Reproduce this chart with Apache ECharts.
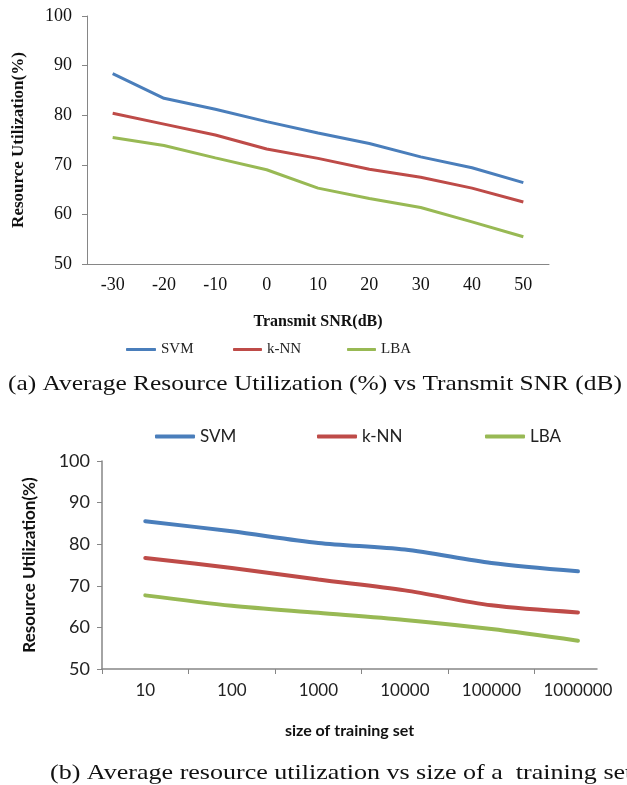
<!DOCTYPE html>
<html>
<head>
<meta charset="utf-8">
<script src="https://cdn.jsdelivr.net/npm/echarts@6/dist/echarts.min.js"></script>
<style>
  html, body { margin: 0; padding: 0; background: #fff; }
  #chart { width: 627px; height: 785px; }
</style>
</head>
<body>
<div id="chart"></div>
<script>
// chart (a): resource utilization vs transmit SNR
var snrLabels = ['-30', '-20', '-10', '0', '10', '20', '30', '40', '50'];
var snrSvm = [88.4, 83.4, 81.2, 78.7, 76.4, 74.3, 71.6, 69.4, 66.4];
var snrKnn = [80.4, 78.2, 76.0, 73.2, 71.3, 69.1, 67.5, 65.3, 62.5];
var snrLba = [75.5, 73.9, 71.4, 69.0, 65.3, 63.2, 61.4, 58.5, 55.5];

// chart (b): resource utilization vs size of training set
var sizeLabels = ['10', '100', '1000', '10000', '100000', '1000000'];
var sizeSvm = [85.5, 83.1, 80.3, 78.7, 75.5, 73.5];
var sizeKnn = [76.7, 74.3, 71.5, 68.9, 65.3, 63.6];
var sizeLba = [67.7, 65.2, 63.5, 61.8, 59.6, 56.8];

var colors = ['#4A7EBB', '#BE4B48', '#98B954'];
var serif = '"Liberation Serif", "Times New Roman", serif';
var sans = 'Lato, "Open Sans", sans-serif';
var axisGray = '#868686';

// positions on the value axis of chart (b): band centres
function bandData(values) {
    return values.map(function (v, i) { return [i + 0.5, v]; });
}

var myChart = echarts.init(document.getElementById('chart'));

function legendItem(name, left, top, font, size, w, h) {
    return {
        data: [name],
        left: left,
        top: top,
        padding: 0,
        icon: 'roundRect',
        itemWidth: w,
        itemHeight: h,
        itemGap: 0,
        textStyle: { fontFamily: font, fontSize: size, color: '#222' },
        selectedMode: false
    };
}

function caption(text, x, y, sx) {
    return {
        type: 'text',
        x: x,
        y: y,
        scaleX: sx,
        style: {
            text: text,
            font: '21px "Liberation Serif", serif',
            fill: '#111',
            verticalAlign: 'middle'
        }
    };
}

myChart.setOption({
    animation: false,
    color: colors,
    graphic: [
        caption('(a) Average Resource Utilization (%) vs Transmit SNR (dB)', 8, 384, 1.21),
        caption('(b) Average resource utilization vs size of a  training set', 50, 773, 1.24)
    ],
    legend: [
        legendItem('SVM', 126, 342, serif, 15, 30, 3),
        legendItem('k-NN', 233, 342, serif, 15, 29, 3),
        legendItem('LBA', 347, 342, serif, 15, 29, 3),
        legendItem('SVM', 155, 428, sans, 17, 40, 4),
        legendItem('k-NN', 317, 428, sans, 17, 40, 4),
        legendItem('LBA', 485, 428, sans, 17, 40, 4)
    ],
    grid: [
        { left: 87, top: 16, width: 462, height: 248 },
        { left: 102, top: 461, width: 495, height: 208 }
    ],
    xAxis: [
        {
            gridIndex: 0,
            type: 'category',
            data: snrLabels,
            boundaryGap: true,
            name: 'Transmit SNR(dB)',
            nameLocation: 'middle',
            nameGap: 50,
            nameTextStyle: { fontFamily: serif, fontSize: 16, fontWeight: 'bold', color: '#111' },
            axisLine: { lineStyle: { color: axisGray, width: 1 } },
            axisTick: { length: 5, lineStyle: { color: axisGray } },
            axisLabel: { fontFamily: serif, fontSize: 18, color: '#111', margin: 12 }
        },
        {
            gridIndex: 1,
            type: 'value',
            min: 0,
            max: 5.72,
            name: 'size of training set',
            nameLocation: 'middle',
            nameGap: 54,
            nameTextStyle: { fontFamily: sans, fontSize: 16, fontWeight: 'bold', color: '#111' },
            splitLine: { show: false },
            axisLine: { lineStyle: { color: axisGray, width: 1.5 } },
            axisTick: { length: 5, lineStyle: { color: axisGray }, customValues: [0, 1, 2, 3, 4, 5] },
            axisLabel: {
                fontFamily: sans, fontSize: 17, color: '#222', margin: 13,
                customValues: [0.5, 1.5, 2.5, 3.5, 4.5, 5.5],
                formatter: function (v) { return sizeLabels[Math.round(v - 0.5)]; }
            }
        }
    ],
    yAxis: [
        {
            gridIndex: 0,
            type: 'value',
            min: 50, max: 100, interval: 10,
            name: 'Resource Utilization(%)',
            nameLocation: 'middle',
            nameGap: 60,
            nameTextStyle: { fontFamily: serif, fontSize: 17, fontWeight: 'bold', color: '#111' },
            splitLine: { show: false },
            axisLine: { show: true, lineStyle: { color: axisGray, width: 1 } },
            axisTick: { show: true, length: 5, lineStyle: { color: axisGray } },
            axisLabel: { fontFamily: serif, fontSize: 18, color: '#111', margin: 15 }
        },
        {
            gridIndex: 1,
            type: 'value',
            min: 50, max: 100, interval: 10,
            name: 'Resource Utilization(%)',
            nameLocation: 'middle',
            nameGap: 64,
            nameTextStyle: { fontFamily: sans, fontSize: 17, fontWeight: 'bold', color: '#111' },
            splitLine: { show: false },
            axisLine: { show: true, lineStyle: { color: axisGray, width: 1.5 } },
            axisTick: { show: true, length: 5, lineStyle: { color: axisGray } },
            axisLabel: { fontFamily: sans, fontSize: 18, color: '#222', margin: 12 }
        }
    ],
    series: [
        { name: 'SVM', type: 'line', xAxisIndex: 0, yAxisIndex: 0, data: snrSvm, symbol: 'none', lineStyle: { width: 3 } },
        { name: 'k-NN', type: 'line', xAxisIndex: 0, yAxisIndex: 0, data: snrKnn, symbol: 'none', lineStyle: { width: 3 } },
        { name: 'LBA', type: 'line', xAxisIndex: 0, yAxisIndex: 0, data: snrLba, symbol: 'none', lineStyle: { width: 3 } },
        { name: 'SVM', type: 'line', xAxisIndex: 1, yAxisIndex: 1, data: bandData(sizeSvm), symbol: 'none', smooth: 0.3, lineStyle: { width: 4, cap: 'round' } },
        { name: 'k-NN', type: 'line', xAxisIndex: 1, yAxisIndex: 1, data: bandData(sizeKnn), symbol: 'none', smooth: 0.3, lineStyle: { width: 4, cap: 'round' } },
        { name: 'LBA', type: 'line', xAxisIndex: 1, yAxisIndex: 1, data: bandData(sizeLba), symbol: 'none', smooth: 0.3, lineStyle: { width: 4, cap: 'round' } }
    ]
});
</script>
</body>
</html>
